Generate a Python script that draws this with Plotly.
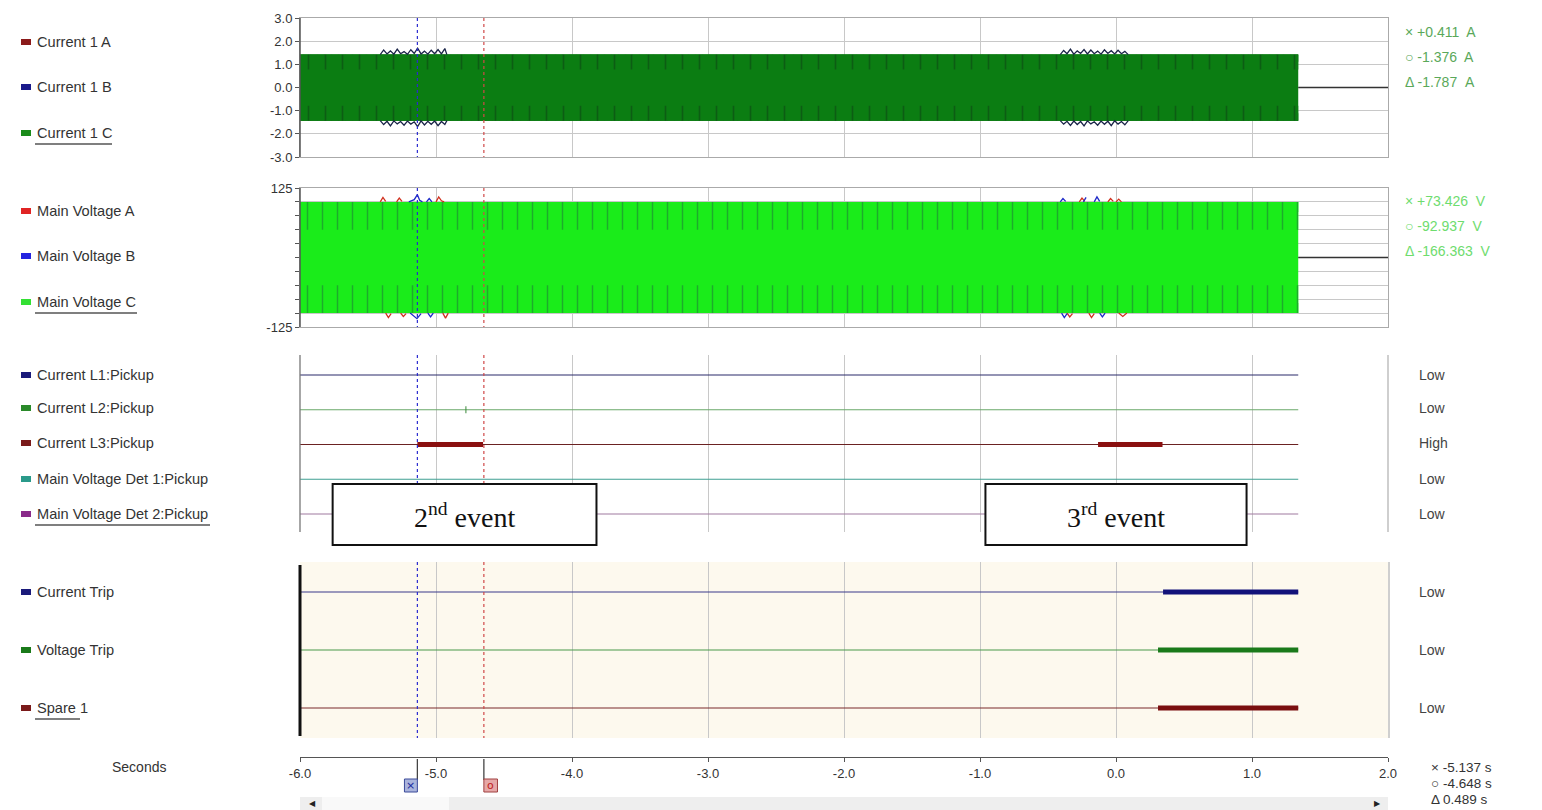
import plotly.graph_objects as go

# ---------------- data ----------------
time_ticks = [-6, -5, -4, -3, -2, -1, 0, 1, 2]
time_tick_labels = ["-6.0", "-5.0", "-4.0", "-3.0", "-2.0", "-1.0", "0.0", "1.0", "2.0"]

record_t = [-6.0, 1.34]          # recorded window
after_t = [1.34, 2.0]            # flat trace after the record ends
after_v = [0, 0]

# analog envelopes (dense 50 Hz waveform shown as a solid band)
current_hi = [1.42, 1.42]
current_lo = [-1.43, -1.43]
voltage_hi = [100, 100]
voltage_lo = [-100, -100]

cur_ticks = [-3, -2, -1, 0, 1, 2, 3]
cur_tick_labels = ["-3.0", "-2.0", "-1.0", "0.0", "1.0", "2.0", "3.0"]
volt_label_ticks = [-125, 125]
volt_label_text = ["-125", "125"]
volt_grid = [-100, -75, -50, -25, 0, 25, 50, 75, 100]

# disturbances (fault transients)
cur_ev1_t = [-5.41, -5.385, -5.36, -5.335, -5.31, -5.285, -5.26, -5.235, -5.21, -5.185, -5.16,
             -5.135, -5.11, -5.085, -5.06, -5.035, -5.01, -4.985, -4.96, -4.935, -4.92]
cur_ev1_hi = [1.42, 1.62, 1.45, 1.58, 1.44, 1.66, 1.46, 1.55, 1.43, 1.63, 1.47,
              1.70, 1.45, 1.57, 1.44, 1.61, 1.46, 1.64, 1.45, 1.68, 1.42]
cur_ev1_lo = [-1.43, -1.60, -1.46, -1.66, -1.44, -1.57, -1.47, -1.63, -1.45, -1.58, -1.48,
              -1.69, -1.44, -1.62, -1.46, -1.59, -1.45, -1.65, -1.47, -1.60, -1.43]
cur_ev2_t = [-0.41, -0.385, -0.36, -0.335, -0.31, -0.285, -0.26, -0.235, -0.21, -0.185, -0.16,
             -0.135, -0.11, -0.085, -0.06, -0.035, -0.01, 0.015, 0.04, 0.065, 0.09]
cur_ev2_hi = [1.42, 1.60, 1.46, 1.66, 1.44, 1.58, 1.47, 1.64, 1.45, 1.62, 1.46,
              1.57, 1.44, 1.63, 1.47, 1.59, 1.45, 1.61, 1.46, 1.56, 1.42]
cur_ev2_lo = [-1.43, -1.58, -1.46, -1.64, -1.45, -1.60, -1.47, -1.66, -1.44, -1.57, -1.48,
              -1.63, -1.45, -1.59, -1.46, -1.65, -1.44, -1.58, -1.47, -1.61, -1.43]

volt_ev1_red_t = [-5.41, -5.39, -5.37, None, -5.29, -5.27, -5.25, None, -5.00, -4.98, -4.96, -4.94]
volt_ev1_red_hi = [100, 108, 101, None, 100, 107, 101, None, 100, 109, 102, 100]
volt_ev1_blue_t = [-5.20, -5.16, -5.137, -5.12, -5.10, None, -5.07, -5.05, -5.03]
volt_ev1_blue_hi = [100, 104, 113, 103, 100, None, 100, 106, 100]
volt_ev1_red_lo_t = [-5.37, -5.35, -5.33, None, -5.26, -5.24, -5.22, None, -4.95, -4.93, -4.91]
volt_ev1_red_lo = [-100, -108, -101, None, -100, -106, -101, None, -100, -109, -100]
volt_ev1_blue_lo_t = [-5.19, -5.17, -5.14, -5.11, None, -5.06, -5.04, -5.02]
volt_ev1_blue_lo = [-100, -104, -110, -101, None, -100, -107, -100]

volt_ev2_red_t = [-0.27, -0.25, -0.23, None, -0.06, -0.04, -0.02, None, 0.0, 0.02, 0.04]
volt_ev2_red_hi = [100, 107, 101, None, 100, 106, 101, None, 100, 105, 100]
volt_ev2_blue_t = [-0.41, -0.39, -0.37, None, -0.24, -0.22, None, -0.16, -0.14, -0.12]
volt_ev2_blue_hi = [100, 106, 101, None, 100, 108, None, 100, 109, 101]
volt_ev2_red_lo_t = [-0.36, -0.34, -0.32, None, -0.20, -0.18, -0.16, None, 0.02, 0.05, 0.08]
volt_ev2_red_lo = [-100, -107, -101, None, -100, -108, -101, None, -100, -106, -100]
volt_ev2_blue_lo_t = [-0.40, -0.38, -0.36, None, -0.12, -0.10, -0.08]
volt_ev2_blue_lo = [-100, -108, -101, None, -100, -107, -100]

# digital channels
pickup_names = ["Current L1:Pickup", "Current L2:Pickup", "Current L3:Pickup",
                "Main Voltage Det 1:Pickup", "Main Voltage Det 2:Pickup"]
pickup_levels = [5, 4, 3, 2, 1]
pickup_states = ["Low", "Low", "High", "Low", "Low"]
l3_high_start = [-5.137, -0.132]
l3_high_end = [-4.654, 0.342]
l2_glitch_t = [-4.78]

trip_names = ["Current Trip", "Voltage Trip", "Spare 1"]
trip_levels = [3, 2, 1]
trip_states = ["Low", "Low", "Low"]
trip_high_start = [0.346, 0.309, 0.309]
trip_high_end = [1.34, 1.34, 1.34]

analog_names = ["Current 1 A", "Current 1 B", "Current 1 C",
                "Main Voltage A", "Main Voltage B", "Main Voltage C"]

cursor_x = -5.137
cursor_o = -4.648
cur_readout = ["\u00d7 +0.411  A", "\u25cb -1.376  A", "\u0394 -1.787  A"]
volt_readout = ["\u00d7 +73.426  V", "\u25cb -92.937  V", "\u0394 -166.363  V"]
time_readout = ["\u00d7 -5.137 s", "\u25cb -4.648 s", "\u0394 0.489 s"]

events = ["2<sup>nd</sup> event", "3<sup>rd</sup> event"]
event_t0 = [-5.76, -0.96]
event_t1 = [-3.82, 0.96]

# ---------------- layout helpers ----------------
# the page body adds an 8 px margin, so the figure is drawn 8 px smaller and
# all pixel positions (measured on the 1542x810 screen) are shifted by 8 px
OFF = 8
W, H = 1542 - OFF, 810 - OFF
def px(x):
    return (x - OFF) / W
def py(y):
    return 1 - (y - OFF) / H

FONT = "Liberation Sans, Arial, sans-serif"
GRID = "#c8c8c8"
X_DOM = [px(300), px(1388)]

fig = go.Figure()

def line(xa, ya, x, y, color, width, dash=None):
    fig.add_trace(go.Scatter(x=x, y=y, xaxis=xa, yaxis=ya, mode="lines",
                             line=dict(color=color, width=width, dash=dash),
                             showlegend=False, hoverinfo="skip"))

def band(xa, ya, t, lo, hi, color):
    fig.add_trace(go.Scatter(x=t, y=lo, xaxis=xa, yaxis=ya, mode="lines",
                             line=dict(width=0, color=color), showlegend=False, hoverinfo="skip"))
    fig.add_trace(go.Scatter(x=t, y=hi, xaxis=xa, yaxis=ya, mode="lines",
                             line=dict(width=0, color=color), fill="tonexty", fillcolor=color,
                             showlegend=False, hoverinfo="skip"))

def edge(xa, ya, t, outer, frac, lo, hi, color, dark, size, sol):
    inner = [o - frac * (o - (h + l) / 2) for o, h, l in zip(outer, hi, lo)]
    fig.add_trace(go.Scatter(x=t, y=inner, xaxis=xa, yaxis=ya, mode="lines",
                             line=dict(width=0, color=color), showlegend=False, hoverinfo="skip"))
    fig.add_trace(go.Scatter(x=t, y=outer, xaxis=xa, yaxis=ya, mode="lines",
                             line=dict(width=0, color=color), fill="tonexty", fillcolor=color,
                             fillpattern=dict(shape="|", size=size, solidity=sol, fgcolor=dark,
                                              fillmode="overlay"),
                             showlegend=False, hoverinfo="skip"))

# ---- panel 1: currents ----
C_GREEN = "#0b7d12"
band("x", "y", record_t, current_lo, current_hi, C_GREEN)
for fr, sz, so in [(0.22, 7, 0.2), (0.45, 17, 0.1)]:
    edge("x", "y", record_t, current_hi, fr, current_lo, current_hi, C_GREEN, "#0d3d14", sz, so)
    edge("x", "y", record_t, current_lo, fr, current_lo, current_hi, C_GREEN, "#0d3d14", sz, so)
for tt, vv in [(cur_ev1_t, cur_ev1_hi), (cur_ev1_t, cur_ev1_lo), (cur_ev2_t, cur_ev2_hi), (cur_ev2_t, cur_ev2_lo)]:
    line("x", "y", tt, vv, "#1a2448", 1.3)
line("x", "y", after_t, after_v, "#333333", 1.5)

# ---- panel 2: voltages ----
V_GREEN = "#1aec1a"
band("x2", "y2", record_t, voltage_lo, voltage_hi, V_GREEN)
for fr, sz, so in [(0.18, 7, 0.18), (0.5, 15, 0.1)]:
    edge("x2", "y2", record_t, voltage_hi, fr, voltage_lo, voltage_hi, V_GREEN, "#1f6a3c", sz, so)
    edge("x2", "y2", record_t, voltage_lo, fr, voltage_lo, voltage_hi, V_GREEN, "#1f6a3c", sz, so)
for tt, vv, c in [(volt_ev1_red_t, volt_ev1_red_hi, "#d0301e"), (volt_ev1_blue_t, volt_ev1_blue_hi, "#1e2ac8"),
                  (volt_ev1_red_lo_t, volt_ev1_red_lo, "#d0301e"), (volt_ev1_blue_lo_t, volt_ev1_blue_lo, "#1e2ac8"),
                  (volt_ev2_red_t, volt_ev2_red_hi, "#d0301e"), (volt_ev2_blue_t, volt_ev2_blue_hi, "#1e2ac8"),
                  (volt_ev2_red_lo_t, volt_ev2_red_lo, "#d0301e"), (volt_ev2_blue_lo_t, volt_ev2_blue_lo, "#1e2ac8")]:
    line("x2", "y2", tt, vv, c, 1.3)
line("x2", "y2", after_t, after_v, "#333333", 1.5)

# ---- panel 3: pickups ----
pickup_thin = ["#2a2a6a", "#6aa86a", "#6b2222", "#3f9f92", "#a07aa0"]
for lvl, c in zip(pickup_levels, pickup_thin):
    line("x3", "y3", record_t, [lvl, lvl], c, 1.2)
for s, e in zip(l3_high_start, l3_high_end):
    line("x3", "y3", [s, e], [3, 3], "#8a1010", 5)
fig.add_trace(go.Scatter(x=l2_glitch_t, y=[4], xaxis="x3", yaxis="y3", mode="markers",
                         marker=dict(symbol="line-ns-open", size=5, color="#3a8a3a",
                                     line=dict(color="#3a8a3a", width=1)),
                         showlegend=False, hoverinfo="skip"))

# ---- panel 4: trips ----
trip_thin = ["#3a3a8a", "#4a9a4a", "#7a2a2a"]
trip_thick = ["#12127a", "#1a7a1a", "#7a0f0f"]
for lvl, c in zip(trip_levels, trip_thin):
    line("x4", "y4", record_t, [lvl, lvl], c, 1.2)
for lvl, s, e, c in zip(trip_levels, trip_high_start, trip_high_end, trip_thick):
    line("x4", "y4", [s, e], [lvl, lvl], c, 5)

# ---- bottom time axis (invisible helper trace) ----
fig.add_trace(go.Scatter(x=[-6, 2], y=[0, 0], xaxis="x5", yaxis="y5", mode="lines",
                         line=dict(width=0), showlegend=False, hoverinfo="skip"))

# ---------------- axes ----------------
xbase = dict(range=[-6, 2], domain=X_DOM, tickvals=time_ticks, showticklabels=False, ticks="",
             showgrid=True, gridcolor=GRID, gridwidth=1, zeroline=False, fixedrange=True, automargin=False)
tickfont = dict(family=FONT, size=13, color="#333333")

fig.update_layout(
    xaxis=dict(**xbase, anchor="y", showline=True, mirror=True, linecolor="#aaaaaa"),
    yaxis=dict(domain=[py(157), py(18)], range=[-3, 3], tickvals=cur_ticks, ticktext=cur_tick_labels,
               showgrid=True, gridcolor=GRID, zeroline=False, showline=True, mirror=True,
               linecolor="#aaaaaa", ticks="outside", ticklen=4, tickcolor="#555555",
               tickfont=tickfont, anchor="x", fixedrange=True, automargin=False),
    xaxis2=dict(**xbase, anchor="y2", showline=True, mirror=True, linecolor="#aaaaaa"),
    yaxis2=dict(domain=[py(327), py(188)], range=[-125, 125], tickvals=volt_label_ticks, ticktext=volt_label_text,
                showgrid=False, zeroline=False, showline=True, mirror=True,
                linecolor="#aaaaaa", ticks="outside", ticklen=4, tickcolor="#555555",
                minor=dict(tickvals=volt_grid, ticks="outside", ticklen=4, tickcolor="#555555",
                           showgrid=True, gridcolor=GRID, gridwidth=1),
                tickfont=tickfont, anchor="x2", fixedrange=True, automargin=False),
    xaxis3=dict(**xbase, anchor="y3", showline=False),
    yaxis3=dict(domain=[py(532), py(355)], range=[0.482, 5.576], visible=False, anchor="x3",
                fixedrange=True, automargin=False),
    xaxis4=dict(**xbase, anchor="y4", showline=False),
    yaxis4=dict(domain=[py(738), py(562)], range=[0.483, 3.517], visible=False, anchor="x4",
                fixedrange=True, automargin=False),
    xaxis5=dict(range=[-6, 2], domain=X_DOM, anchor="y5", tickvals=time_ticks, ticktext=time_tick_labels,
                showgrid=False, zeroline=False, showline=True, linecolor="#555555", linewidth=1.2,
                ticks="outside", ticklen=4, tickcolor="#555555", tickfont=tickfont, fixedrange=True,
                automargin=False),
    yaxis5=dict(domain=[py(757), py(757) + 0.01], visible=False, anchor="x5", fixedrange=True,
                automargin=False),
)

shapes = []
annotations = []

# beige background of trip panel
shapes.append(dict(type="rect", xref="x4", yref="paper", x0=-6, x1=2, y0=py(738), y1=py(562),
                   fillcolor="#fdf9ee", line=dict(width=0), layer="below"))

# dark left axis lines of analog panels
for y0, y1 in [(18, 157), (188, 327)]:
    shapes.append(dict(type="line", xref="paper", yref="paper", x0=px(300), x1=px(300),
                       y0=py(y0), y1=py(y1), line=dict(color="#555555", width=1.5)))
# pickup panel side lines
shapes.append(dict(type="line", xref="paper", yref="paper", x0=px(300), x1=px(300), y0=py(355), y1=py(532),
                   line=dict(color="#777777", width=1.3)))
shapes.append(dict(type="line", xref="paper", yref="paper", x0=px(1388), x1=px(1388), y0=py(355), y1=py(532),
                   line=dict(color="#b5b5b5", width=1.3)))
# trip panel side lines
shapes.append(dict(type="line", xref="paper", yref="paper", x0=px(300), x1=px(300), y0=py(565), y1=py(736),
                   line=dict(color="#111111", width=3)))
shapes.append(dict(type="line", xref="paper", yref="paper", x0=px(1389), x1=px(1389), y0=py(562), y1=py(738),
                   line=dict(color="#b5b5b5", width=1.3)))

# cursor lines
for xv, c in [(cursor_x, "#2b2bd0"), (cursor_o, "#d04848")]:
    for y0, y1 in [(18, 157), (188, 327), (355, 532), (562, 738)]:
        shapes.append(dict(type="line", xref="x", yref="paper", x0=xv, x1=xv, y0=py(y0), y1=py(y1),
                           line=dict(color=c, width=1.2, dash="dot")))

# event boxes
for txt, t0, t1 in zip(events, event_t0, event_t1):
    shapes.append(dict(type="rect", xref="x", yref="paper", x0=t0, x1=t1, y0=py(545), y1=py(484),
                       fillcolor="white", line=dict(color="#111111", width=2)))
    annotations.append(dict(xref="x", yref="paper", x=(t0 + t1) / 2, y=py(516), text=txt, showarrow=False,
                            xanchor="center", yanchor="middle",
                            font=dict(family="Liberation Serif, Times New Roman, serif", size=28, color="#111111")))

# channel labels on the left
label_names = analog_names + pickup_names + trip_names
label_y = [42, 87, 133, 211, 256, 302, 375, 408, 443, 479, 514, 592, 650, 708]
label_colors = ["#8b1a1a", "#1a1a8b", "#1a8b1a", "#e02424", "#2424e0", "#33e033",
                "#1a1a7a", "#2a8a2a", "#7a1a1a", "#2a9a8a", "#8a2a8a",
                "#1a1a7a", "#1a7a1a", "#7a1a1a"]
underline_end = {"Current 1 C": 112, "Main Voltage C": 137, "Main Voltage Det 2:Pickup": 210, "Spare 1": 80}
for name, y, c in zip(label_names, label_y, label_colors):
    shapes.append(dict(type="rect", xref="paper", yref="paper", x0=px(21), x1=px(31), y0=py(y + 3), y1=py(y - 3),
                       fillcolor=c, line=dict(width=0)))
    annotations.append(dict(xref="paper", yref="paper", x=px(35), y=py(y), text=name, showarrow=False,
                            xanchor="left", yanchor="middle", font=dict(family=FONT, size=14.6, color="#333333")))
    if name in underline_end:
        shapes.append(dict(type="line", xref="paper", yref="paper", x0=px(35), x1=px(underline_end[name]),
                           y0=py(y + 11), y1=py(y + 11), line=dict(color="#555555", width=1.5)))

annotations.append(dict(xref="paper", yref="paper", x=px(139), y=py(767), text="Seconds", showarrow=False,
                        xanchor="center", yanchor="middle", font=dict(family=FONT, size=14, color="#333333")))

# state labels on the right
for st, y in zip(pickup_states + trip_states, label_y[6:]):
    annotations.append(dict(xref="paper", yref="paper", x=px(1417), y=py(y), text=st, showarrow=False,
                            xanchor="left", yanchor="middle", font=dict(family=FONT, size=14, color="#444444")))

# cursor readouts
for txt, y in zip(cur_readout, [32, 57, 82]):
    annotations.append(dict(xref="paper", yref="paper", x=px(1403), y=py(y), text=txt, showarrow=False,
                            xanchor="left", yanchor="middle", font=dict(family=FONT, size=14, color="#5aa85a")))
for txt, y in zip(volt_readout, [201, 226, 251]):
    annotations.append(dict(xref="paper", yref="paper", x=px(1403), y=py(y), text=txt, showarrow=False,
                            xanchor="left", yanchor="middle", font=dict(family=FONT, size=14, color="#6edc6e")))
for txt, y in zip(time_readout, [767, 783, 799]):
    annotations.append(dict(xref="paper", yref="paper", x=px(1429), y=py(y), text=txt, showarrow=False,
                            xanchor="left", yanchor="middle", font=dict(family=FONT, size=13.5, color="#333333")))

# cursor handles on the time axis
for xv, dx, fill, edgec, sym, sc in [(cursor_x, -0.095, "#aab4dc", "#3a4a9a", "\u00d7", "#1a2aa0"),
                                     (cursor_o, 0.1, "#e6a8a8", "#a04040", "o", "#c02020")]:
    shapes.append(dict(type="line", xref="x", yref="paper", x0=xv, x1=xv, y0=py(759), y1=py(780),
                       line=dict(color="#444444", width=1.3)))
    shapes.append(dict(type="rect", xref="x", yref="paper", x0=min(xv, xv + dx), x1=max(xv, xv + dx),
                       y0=py(792), y1=py(779), fillcolor=fill, line=dict(color=edgec, width=1)))
    annotations.append(dict(xref="x", yref="paper", x=xv + dx / 2, y=py(785.5), text=sym, showarrow=False,
                            xanchor="center", yanchor="middle",
                            font=dict(family="DejaVu Sans, sans-serif", size=11, color=sc)))

# scrollbar
shapes.append(dict(type="rect", xref="paper", yref="paper", x0=px(300), x1=px(1388), y0=py(810), y1=py(797),
                   fillcolor="#eeeeee", line=dict(width=0), layer="below"))
shapes.append(dict(type="rect", xref="paper", yref="paper", x0=px(322), x1=px(449), y0=py(810), y1=py(797),
                   fillcolor="#f9f9f9", line=dict(width=0), layer="below"))
for xx, s in [(312, "\u25c0"), (1377, "\u25b6")]:
    annotations.append(dict(xref="paper", yref="paper", x=px(xx), y=py(803.5), text=s, showarrow=False,
                            xanchor="center", yanchor="middle",
                            font=dict(family="DejaVu Sans, sans-serif", size=8, color="#222222")))

fig.update_layout(
    width=W, height=H, margin=dict(l=0, r=0, t=0, b=0, pad=0, autoexpand=False),
    paper_bgcolor="white", plot_bgcolor="rgba(0,0,0,0)",
    showlegend=False, shapes=shapes, annotations=annotations,
    font=dict(family=FONT, color="#333333"),
)

fig.write_html("out.html")
